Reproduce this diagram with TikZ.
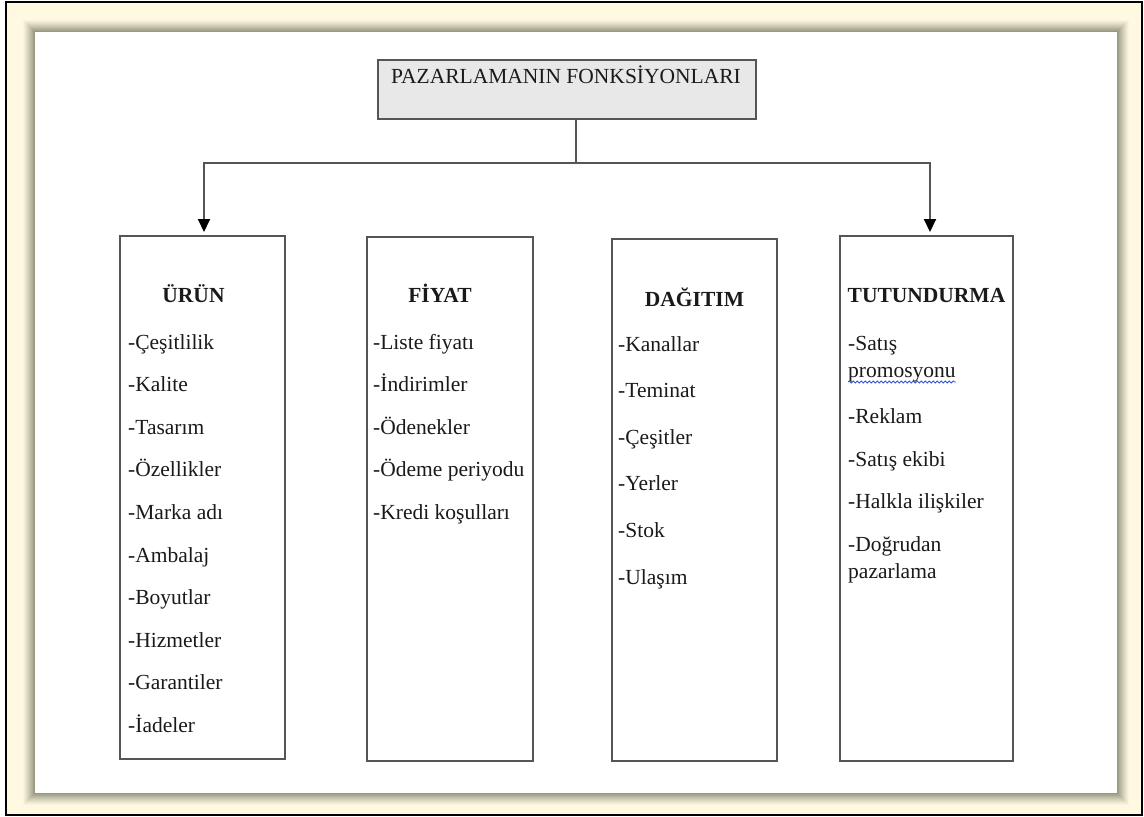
\documentclass[tikz,border=0pt]{standalone}
\usepackage{fontspec}
\setmainfont{Liberation Serif}
\usetikzlibrary{arrows.meta,decorations.pathmorphing,calc}
\definecolor{paper}{HTML}{FFF9E1}
\definecolor{shade}{HTML}{9A9882}
\definecolor{boxline}{HTML}{555555}
\definecolor{topfill}{HTML}{E8E8E8}
\definecolor{ink}{HTML}{1A1A1A}
\definecolor{spell}{HTML}{3355DD}
\tikzset{
  colbox/.style={draw=boxline, line width=2pt, fill=white, anchor=north west, inner sep=0pt},
  titletxt/.style={font=\fontsize{21.5}{26}\selectfont\bfseries, text=ink, anchor=base, inner sep=0pt},
  itemtxt/.style={font=\fontsize{21.5}{26}\selectfont, text=ink, anchor=base west, inner sep=0pt},
  conn/.style={draw=boxline, line width=2pt},
  arr/.style={conn, -{Triangle[width=12pt,length=13pt,fill=black,color=black]}, shorten >=3pt},
}
\begin{document}
\begin{tikzpicture}[x=1pt,y=-1pt]
\useasboundingbox (0,0) rectangle (1144,817);
\fill[white] (0,0) rectangle (1144,817);
\fill[paper] (6,2) rectangle (1142,815);
% soft shadow frame
\foreach \i in {0,...,12}{
  \pgfmathtruncatemacro\p{round(100*(\i/12)^1.2)}
  \fill[shade!\p!paper] (22+\i,19+\i) rectangle (1130-\i,806-\i);
}
\fill[white] (35,32) rectangle (1117,793);
\draw[black, line width=2.5pt] (6,2) rectangle (1142,815);

% top box
\node[draw=boxline, line width=2pt, fill=topfill, minimum width=378pt, minimum height=59pt,
      anchor=north west, inner sep=0pt] (top) at (377,59) {};
\node[font=\fontsize{21.5}{26}\selectfont, text=ink, anchor=base, inner sep=0pt] (toptxt) at (566,83) {PAZARLAMANIN FONKSİYONLARI};

% column boxes
\node[colbox, minimum width=165pt, minimum height=523pt] (urun) at (119,235) {};
\node[colbox, minimum width=166pt, minimum height=524pt] (fiyat) at (366,236) {};
\node[colbox, minimum width=165pt, minimum height=522pt] (dagitim) at (611,238) {};
\node[colbox, minimum width=173pt, minimum height=525pt] (tut) at (839,235) {};

% connectors
\coordinate (stemtop) at ($(top.south)+(9,0)$);
\coordinate (hub) at ($(stemtop)+(0,43)$);
\draw[conn] (stemtop) -- (hub);
\draw[arr] (hub) -| ([xshift=1.5pt]urun.north);
\draw[arr] (hub) -| ([xshift=3.5pt]tut.north);

% titles
\node[titletxt] (urunT) at (193.5,302) {ÜRÜN};
\node[titletxt] (fiyatT) at (440,302) {FİYAT};
\node[titletxt] (dagitimT) at (694.5,306) {DAĞITIM};
\node[titletxt] (tutT) at (926.5,302) {TUTUNDURMA};

% items
\foreach \t [count=\k from 0] in {-Çeşitlilik,-Kalite,-Tasarım,-Özellikler,-Marka adı,-Ambalaj,-Boyutlar,-Hizmetler,-Garantiler,-İadeler}
  \node[itemtxt] (u\k) at (128,{349+42.6*\k}) {\t};
\foreach \t [count=\k from 0] in {-Liste fiyatı,-İndirimler,-Ödenekler,-Ödeme periyodu,-Kredi koşulları}
  \node[itemtxt] (f\k) at (373,{349+42.6*\k}) {\t};
\foreach \t [count=\k from 0] in {-Kanallar,-Teminat,-Çeşitler,-Yerler,-Stok,-Ulaşım}
  \node[itemtxt] (d\k) at (618,{351+46.6*\k}) {\t};

\node[itemtxt] (t0) at (848,350) {-Satış};
\node[itemtxt] (t1) at (848,377) {promosyonu};
\node[itemtxt] (t2) at (848,423) {-Reklam};
\node[itemtxt] (t3) at (848,466) {-Satış ekibi};
\node[itemtxt] (t4) at (848,508) {-Halkla ilişkiler};
\node[itemtxt] (t5) at (848,551) {-Doğrudan};
\node[itemtxt] (t6) at (848,578) {pazarlama};
\draw[spell, line width=0.8pt, decorate, decoration={snake, segment length=4pt, amplitude=1pt}]
  ($(t1.base west)+(0,5)$) -- ($(t1.base east)+(0,5)$);
\end{tikzpicture}
\end{document}
